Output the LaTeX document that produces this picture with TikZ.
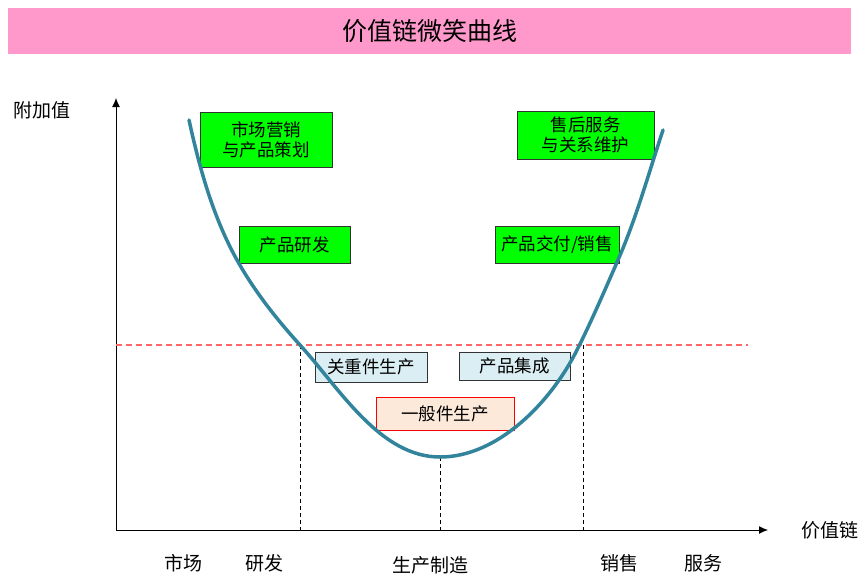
\documentclass[tikz,border=0pt]{standalone}
\usepackage{fontspec}
\setmainfont{Noto Sans CJK SC}
\usetikzlibrary{arrows.meta}
\definecolor{titlepink}{HTML}{FF99CC}
\definecolor{curveblue}{HTML}{31849B}
\definecolor{boxgreen}{HTML}{00FF00}
\definecolor{boxblue}{HTML}{DAEEF3}
\definecolor{boxpeach}{HTML}{FDE9D9}
\definecolor{dashred}{HTML}{FF6666}
\begin{document}
\begin{tikzpicture}[x=1pt,y=-1pt,
  boxfont/.style={font=\fontsize{17.5}{20}\selectfont},
  gbox/.style={draw=black!80, line width=1pt, fill=boxgreen, inner sep=0pt, align=center, boxfont},
  bbox/.style={draw=black!80, line width=1pt, fill=boxblue, inner sep=0pt, boxfont},
  pbox/.style={draw=red, line width=1pt, fill=boxpeach, inner sep=0pt, boxfont},
  axlab/.style={font=\fontsize{19}{22}\selectfont, inner sep=0pt},
  axis/.style={line width=1pt, -{Latex[length=9pt,width=8pt]}},
  vdash/.style={draw=black, dash pattern=on 4pt off 3pt, line width=0.8pt},
]
\useasboundingbox (0,0) rectangle (861,576);
% title
\node[fill=titlepink, minimum width=843pt, minimum height=46pt, inner sep=0pt, font=\fontsize{25}{28}\selectfont] (title) at (429.5,31) {价值链微笑曲线};
% axes
\coordinate (o) at (116,530);
\coordinate (ytop) at (116,98);
\coordinate (xend) at (768,530);
\draw[axis] (o) -- (ytop);
\draw[axis] (o) -- (xend);
\node[axlab] (ylab) at (42,110) {附加值};
\node[axlab] (xlab) at (830,530) {价值链};
% red dashed line
\coordinate (r1) at (116,345);
\coordinate (r2) at (748,345);
\draw[draw=dashred, dash pattern=on 6pt off 4pt, line width=1.6pt] (r1) -- (r2);
% vertical dashed
\coordinate (v1t) at (300,345); \coordinate (v1b) at (300,530);
\coordinate (v2t) at (440,457); \coordinate (v2b) at (440,530);
\coordinate (v3t) at (583,345); \coordinate (v3b) at (583,530);
\draw[vdash] (v1t) -- (v1b);
\draw[vdash] (v2t) -- (v2b);
\draw[vdash] (v3t) -- (v3b);
% boxes
\node[gbox, minimum width=132pt, minimum height=55pt] (mkt) at (266,139.5) {市场营销\\与产品策划};
\node[gbox, minimum width=111pt, minimum height=37pt] (rd) at (294.5,244.5) {产品研发};
\node[gbox, minimum width=137pt, minimum height=48pt] (svc) at (585.5,135) {售后服务\\与关系维护};
\node[gbox, minimum width=124pt, minimum height=37pt] (del) at (557,244.5) {产品交付/销售};
\node[bbox, minimum width=112pt, minimum height=30pt] (key) at (371,367) {关重件生产};
\node[bbox, minimum width=111pt, minimum height=28pt] (integ) at (514.5,366) {产品集成};
\node[pbox, minimum width=138pt, minimum height=33pt] (gen) at (445,413.5) {一般件生产};
% curve
\coordinate (k0) at (189,120);
\coordinate (k1) at (237,260);
\coordinate (k2) at (300,345);
\coordinate (k3) at (440,457);
\coordinate (k4) at (577,350);
\coordinate (k5) at (618,260);
\coordinate (k6) at (663,130);
\draw[curveblue, line width=3.5pt, line cap=round]
  (k0) .. controls (199.5,168) and (213,217) .. (k1)
       .. controls (254,290.6) and (276.4,319) .. (k2)
       .. controls (340,389) and (380,457) .. (k3)
       .. controls (498,457) and (551,402) .. (k4)
       .. controls (591.8,320.5) and (604.8,290.2) .. (k5)
       .. controls (636.4,217.9) and (648.5,173.7) .. (k6);
% bottom labels
\node[axlab] (l1) at (183,563) {市场};
\node[axlab] (l2) at (264,563) {研发};
\node[axlab] (l3) at (430,565) {生产制造};
\node[axlab] (l4) at (619,563) {销售};
\node[axlab] (l5) at (703,563) {服务};
\end{tikzpicture}
\end{document}
